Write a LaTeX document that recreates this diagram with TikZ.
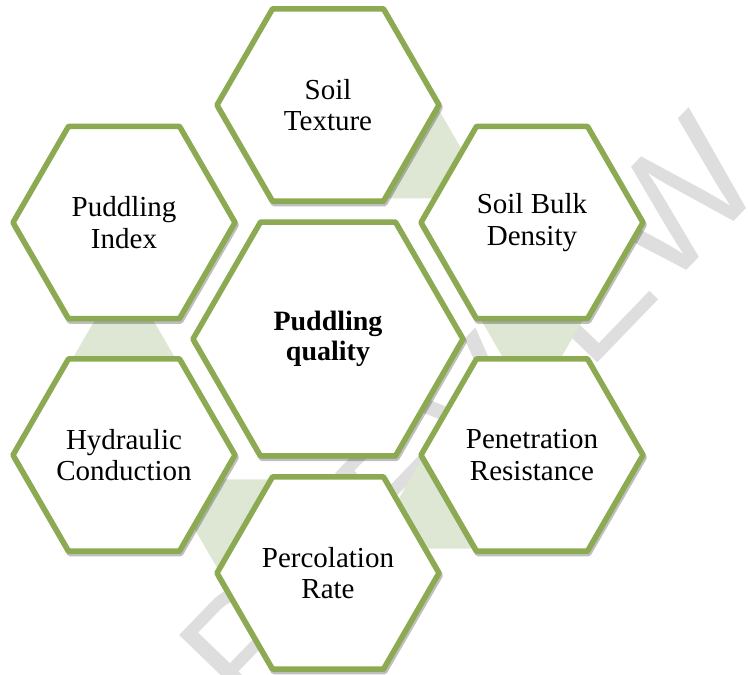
\documentclass[tikz,border=0pt]{standalone}
\usepackage{fontspec}
\setmainfont{Liberation Serif}
\newfontfamily\wmfont{Liberation Sans}
\usetikzlibrary{shapes.geometric,shadows}
\definecolor{hexgreen}{RGB}{139,170,82}
\definecolor{trigreen}{RGB}{221,231,211}
\definecolor{wmgray}{RGB}{222,222,222}
\tikzset{
  hexbox/.style={regular polygon, regular polygon sides=6, draw=hexgreen,
    line width=5.5pt, line join=round, fill=white, inner sep=0pt,
    align=center, font=\fontsize{29}{31.5}\selectfont,
    drop shadow={shadow xshift=1.2pt, shadow yshift=-2.4pt, opacity=0.25,
      fill=black, draw=black, line width=5.5pt}},
  outerhex/.style={hexbox, minimum size=222pt},
  centerhex/.style={hexbox, minimum size=270pt, font=\bfseries\fontsize{28}{30}\selectfont},
  gaptri/.style={fill=trigreen, draw=none},
  wmark/.style={text=wmgray, font=\wmfont\fontsize{162}{162}\selectfont, inner sep=0pt}
}
\begin{document}
\begin{tikzpicture}[x=1pt,y=-1pt]
\useasboundingbox (0,0) rectangle (748,675);
% watermark
\node[wmark, rotate=46] (wm) at (470,415) {PREVIEW};
% connecting triangles (h = 104)
\coordinate (g1) at (430,163.75);
\coordinate (g2) at (532,338.75);
\coordinate (g3) at (430,514);
\coordinate (g4) at (226,514);
\coordinate (g5) at (124,338.75);
\fill[gaptri] ([yshift=69.3pt]g1) -- ([xshift=-60pt,yshift=-34.7pt]g1) -- ([xshift=60pt,yshift=-34.7pt]g1) -- cycle;
\fill[gaptri] ([yshift=-69.3pt]g2) -- ([xshift=-60pt,yshift=34.7pt]g2) -- ([xshift=60pt,yshift=34.7pt]g2) -- cycle;
\fill[gaptri] ([yshift=69.3pt]g3) -- ([xshift=-60pt,yshift=-34.7pt]g3) -- ([xshift=60pt,yshift=-34.7pt]g3) -- cycle;
\fill[gaptri] ([yshift=-69.3pt]g4) -- ([xshift=-60pt,yshift=34.7pt]g4) -- ([xshift=60pt,yshift=34.7pt]g4) -- cycle;
\fill[gaptri] ([yshift=69.3pt]g5) -- ([xshift=-60pt,yshift=-34.7pt]g5) -- ([xshift=60pt,yshift=-34.7pt]g5) -- cycle;
% hexagons
\node[outerhex] (tex) at (328,105) {Soil\\Texture};
\node[outerhex] (bulk) at (532,222.5) {Soil Bulk\\Density};
\node[outerhex] (pen) at (532,455) {Penetration\\Resistance};
\node[outerhex] (perc) at (328,573) {Percolation\\Rate};
\node[outerhex] (hyd) at (124,455) {Hydraulic\\Conduction};
\node[outerhex] (pidx) at (124,222.5) {Puddling\\Index};
\node[centerhex] (pq) at (328,339) {Puddling\\quality};
\end{tikzpicture}
\end{document}
